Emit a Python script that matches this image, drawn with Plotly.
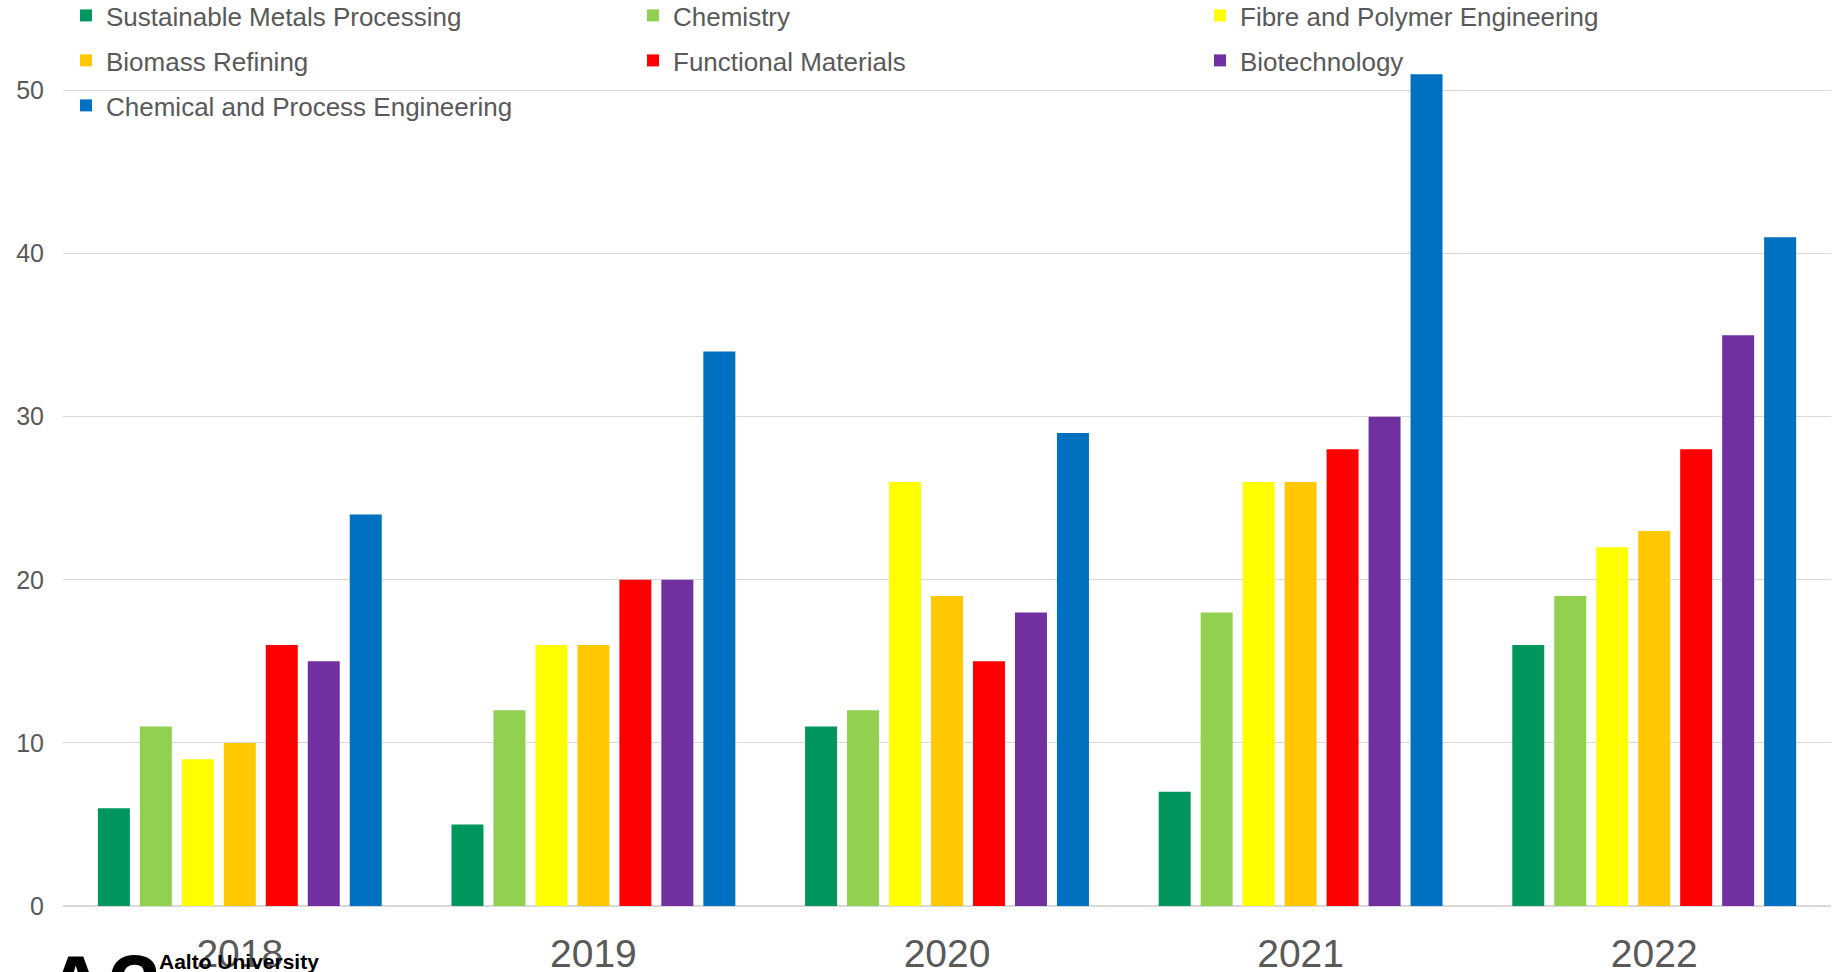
import plotly.graph_objects as go

years = ["2018", "2019", "2020", "2021", "2022"]

sustainable_metals = [6, 5, 11, 7, 16]
chemistry = [11, 12, 12, 18, 19]
fibre_polymer = [9, 16, 26, 26, 22]
biomass_refining = [10, 16, 19, 26, 23]
functional_materials = [16, 20, 15, 28, 28]
biotechnology = [15, 20, 18, 30, 35]
chemical_process = [24, 34, 29, 51, 41]

series = [
    ("Sustainable Metals Processing", sustainable_metals, "#00965E"),
    ("Chemistry", chemistry, "#92D050"),
    ("Fibre and Polymer Engineering", fibre_polymer, "#FFFF00"),
    ("Biomass Refining", biomass_refining, "#FFC800"),
    ("Functional Materials", functional_materials, "#FF0000"),
    ("Biotechnology", biotechnology, "#7030A0"),
    ("Chemical and Process Engineering", chemical_process, "#0070C0"),
]

W, H = 1841, 972
M_L, M_R, M_T, M_B = 63, 10, 0, 66
FONT = "Liberation Sans, Arial, sans-serif"


def py(px):
    # pixel row -> paper y
    ph = H - M_T - M_B
    return (H - M_B - px) / ph


def pxx(px):
    pw = W - M_L - M_R
    return (px - M_L) / pw


# legend rows of three entries each
legend_ids = ["legend", "legend2", "legend3"]

fig = go.Figure()
for i, (name, vals, color) in enumerate(series):
    fig.add_trace(go.Bar(x=years, y=vals, name=name, marker_color=color,
                         marker_line_width=0, legend=legend_ids[i // 3]))

row_tops = [-8, 37, 82]
legend_style = dict(
    orientation="h", x=pxx(66), xanchor="left", yanchor="top",
    entrywidth=522, entrywidthmode="pixels",
    font=dict(size=26, color="#595959", family=FONT),
    bgcolor="rgba(0,0,0,0)", traceorder="normal",
)

fig.update_layout(
    width=W, height=H,
    margin=dict(l=M_L, r=M_R, t=M_T, b=M_B, pad=0, autoexpand=False),
    paper_bgcolor="white", plot_bgcolor="white",
    barmode="group", bargap=0.169, bargroupgap=0.238,
    font=dict(family=FONT, color="#595959"),
    showlegend=True,
    legend=dict(y=py(row_tops[0]), **legend_style),
    legend2=dict(y=py(row_tops[1]), **legend_style),
    legend3=dict(y=py(row_tops[2]), **legend_style),
    xaxis=dict(
        showgrid=False, showline=False, ticks="",
        ticklabelstandoff=21,
        tickfont=dict(size=39, color="#595959"),
    ),
    yaxis=dict(
        range=[0, 55.55], dtick=10, tick0=0,
        showgrid=True, gridcolor="#D9D9D9", gridwidth=1.4,
        zeroline=True, zerolinecolor="#D9D9D9", zerolinewidth=1.6,
        showline=False, ticks="", ticklabelstandoff=18,
        tickfont=dict(size=25, color="#595959"),
    ),
)

# Aalto University logo in the lower-left corner
fig.add_annotation(text="<b>A?</b>", xref="paper", yref="paper",
                   x=pxx(42), y=py(934), xanchor="left", yanchor="top",
                   showarrow=False,
                   font=dict(size=88, color="black", family=FONT))
fig.add_annotation(text="<b>Aalto University</b>", xref="paper", yref="paper",
                   x=pxx(157), y=py(961), xanchor="left", yanchor="middle",
                   showarrow=False,
                   font=dict(size=21, color="black", family=FONT))

fig.write_html("out.html")
